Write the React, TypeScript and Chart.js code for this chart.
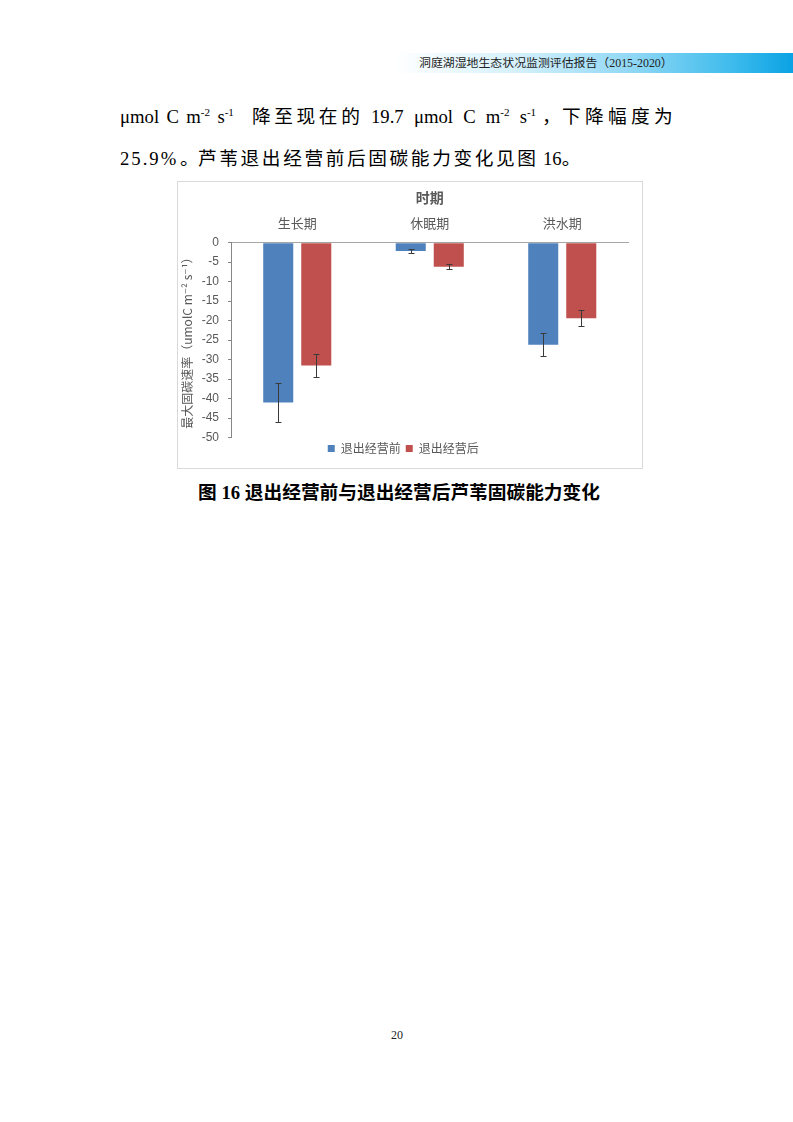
import React, { useEffect, useRef } from "react";
import { Chart, registerables } from "chart.js";

Chart.register(...registerables);

// ---- data ----
const categories = ["生长期", "休眠期", "洪水期"];
const seriesNames = ["退出经营前", "退出经营后"];
const beforeValues = [-41.0, -2.1, -26.2];
const afterValues = [-31.5, -6.2, -19.4];
const beforeErrors = [4.9, 0.55, 3.0];
const afterErrors = [3.0, 0.65, 2.1];
const yTickValues = [0, -5, -10, -15, -20, -25, -30, -35, -40, -45, -50];
const xAxisTitle = "时期";
const yAxisTitle = "最大固碳速率（umolC m⁻² s⁻¹）";

const seriesColors = ["#4f81bd", "#c0504d"];
const errorSets = [beforeErrors, afterErrors];

const errorBarPlugin = {
  id: "errorBars",
  afterDatasetsDraw(chart: any) {
    const ctx = chart.ctx;
    const yScale = chart.scales.y;
    chart.data.datasets.forEach((ds: any, di: number) => {
      const meta = chart.getDatasetMeta(di);
      const errs = errorSets[di];
      meta.data.forEach((bar: any, i: number) => {
        const v = ds.data[i];
        const e = errs[i];
        const x = Math.round(bar.x) + 0.5;
        const yTop = Math.round(yScale.getPixelForValue(v + e)) + 0.5;
        const yBot = Math.round(yScale.getPixelForValue(v - e)) + 0.5;
        ctx.save();
        ctx.strokeStyle = "#3a3a3a";
        ctx.lineWidth = 1;
        ctx.beginPath();
        ctx.moveTo(x, yTop);
        ctx.lineTo(x, yBot);
        ctx.moveTo(x - 3, yTop);
        ctx.lineTo(x + 3, yTop);
        ctx.moveTo(x - 3, yBot);
        ctx.lineTo(x + 3, yBot);
        ctx.stroke();
        ctx.restore();
      });
    });
  },
};

function BarChart() {
  const ref = useRef<HTMLCanvasElement | null>(null);
  useEffect(() => {
    if (!ref.current) return;
    const chart = new Chart(ref.current, {
      type: "bar",
      data: {
        labels: categories,
        datasets: [
          {
            label: seriesNames[0],
            data: beforeValues,
            backgroundColor: seriesColors[0],
            categoryPercentage: 0.574,
            barPercentage: 0.79,
          },
          {
            label: seriesNames[1],
            data: afterValues,
            backgroundColor: seriesColors[1],
            categoryPercentage: 0.574,
            barPercentage: 0.79,
          },
        ],
      },
      options: {
        responsive: false,
        animation: false,
        layout: { padding: { left: 0, right: 13.5, top: 0, bottom: 3.5 } },
        plugins: {
          tooltip: { enabled: false },
          legend: {
            position: "bottom",
            labels: {
              boxWidth: 7,
              boxHeight: 7,
              padding: 5,
              color: "#595959",
              font: { size: 12, family: "'Noto Sans CJK SC', serif" },
            },
          },
        },
        scales: {
          x: {
            type: "category",
            position: "top",
            offset: true,
            grid: { display: false, drawTicks: false },
            border: { display: true, color: "#a6a6a6", width: 1 },
            ticks: {
              padding: 12,
              color: "#595959",
              font: { size: 13, family: "'Noto Sans CJK SC', sans-serif" },
            },
            title: {
              display: true,
              text: xAxisTitle,
              color: "#595959",
              padding: { top: 7.6, bottom: 0 },
              font: { size: 14, weight: "bold", family: "'Noto Sans CJK SC', sans-serif" },
            },
            afterFit(scale: any) {
              scale.height = 60.7;
            },
          },
          y: {
            type: "linear",
            min: -50,
            max: 0,
            afterBuildTicks(scale: any) {
              scale.ticks = yTickValues.map((v) => ({ value: v }));
            },
            grid: {
              display: true,
              drawOnChartArea: false,
              drawTicks: true,
              tickLength: 3,
              color: "#868686",
            },
            border: { display: true, color: "#868686", width: 1 },
            ticks: {
              padding: 9,
              color: "#595959",
              font: { size: 12, family: "'Liberation Sans', Arial, sans-serif" },
            },
            title: {
              display: true,
              text: yAxisTitle,
              color: "#595959",
              padding: { top: 1.8, bottom: 0 },
              font: { size: 12, family: "'Noto Sans CJK SC', 'DejaVu Sans', sans-serif" },
            },
            afterFit(scale: any) {
              scale.width = 53;
            },
          },
        },
      },
      plugins: [errorBarPlugin],
    } as any);
    return () => chart.destroy();
  }, []);
  return (
    <canvas
      ref={ref}
      width={464}
      height={286}
      style={{ display: "block", width: 464, height: 286 }}
    />
  );
}

const serif = "'Liberation Serif', 'Times New Roman', 'Noto Sans CJK SC', serif";
const supStyle: React.CSSProperties = { fontSize: 11, lineHeight: 0 };

function Seg(props: {
  left: number;
  top: number;
  ls?: number;
  ws?: number;
  children: React.ReactNode;
}) {
  return (
    <span
      style={{
        position: "absolute",
        left: props.left,
        top: props.top,
        height: 24,
        lineHeight: "24px",
        fontSize: 18.7,
        whiteSpace: "nowrap",
        letterSpacing: props.ls || 0,
        wordSpacing: props.ws || 0,
      }}
    >
      {props.children}
    </span>
  );
}

export default function App() {
  return (
    <div
      style={{
        position: "absolute",
        left: 0,
        top: 0,
        width: 793,
        height: 1122,
        background: "#ffffff",
        overflow: "hidden",
        fontFamily: serif,
        color: "#000",
      }}
    >
      {/* header band */}
      <div
        style={{
          position: "absolute",
          left: 395,
          top: 53,
          width: 398,
          height: 20,
          background:
            "linear-gradient(to right, #ffffff 0%, #d6f1fc 30%, #8fd7f5 60%, #3dbbec 85%, #0aa2e4 100%)",
        }}
      />
      <div
        style={{
          position: "absolute",
          left: 419,
          top: 55,
          height: 16,
          lineHeight: "16px",
          fontSize: 11.9,
          color: "#222",
          whiteSpace: "nowrap",
        }}
      >
        洞庭湖湿地生态状况监测评估报告（2015-2020）
      </div>

      {/* body text, line 1 */}
      <Seg left={120} top={105} ws={2.7}>
        μmol C m<sup style={supStyle}>-2</sup> s<sup style={supStyle}>-1</sup>
      </Seg>
      <Seg left={252} top={105} ls={3.6}>
        降至现在的
      </Seg>
      <Seg left={371} top={105} ws={5.5}>
        19.7 μmol C m<sup style={supStyle}>-2</sup> s<sup style={supStyle}>-1</sup>
      </Seg>
      <Seg left={542} top={105}>
        ，
      </Seg>
      <Seg left={562} top={105} ls={4.3}>
        下降幅度为
      </Seg>

      {/* body text, line 2 */}
      <Seg left={120} top={147} ls={2}>
        25.9%
      </Seg>
      <Seg left={180} top={147}>
        。
      </Seg>
      <Seg left={198} top={147} ls={2.6}>
        芦苇退出经营前后固碳能力变化见图
      </Seg>
      <Seg left={543} top={147}>
        16。
      </Seg>

      {/* chart */}
      <div
        style={{
          position: "absolute",
          left: 177,
          top: 181,
          width: 466,
          height: 288,
          border: "1px solid #d9d9d9",
          boxSizing: "border-box",
          background: "#fff",
        }}
      >
        <BarChart />
      </div>

      {/* caption */}
      <div
        style={{
          position: "absolute",
          left: 0,
          width: 798,
          top: 481,
          height: 24,
          lineHeight: "24px",
          textAlign: "center",
          fontSize: 18.7,
          fontWeight: "bold",
          fontFamily: "'Liberation Serif', 'Noto Sans CJK SC', serif",
          whiteSpace: "nowrap",
        }}
      >
        图 16 退出经营前与退出经营后芦苇固碳能力变化
      </div>

      {/* page number */}
      <div
        style={{
          position: "absolute",
          left: 0,
          width: 794,
          top: 1027,
          height: 16,
          lineHeight: "16px",
          textAlign: "center",
          fontSize: 12,
          color: "#222",
        }}
      >
        20
      </div>
    </div>
  );
}
